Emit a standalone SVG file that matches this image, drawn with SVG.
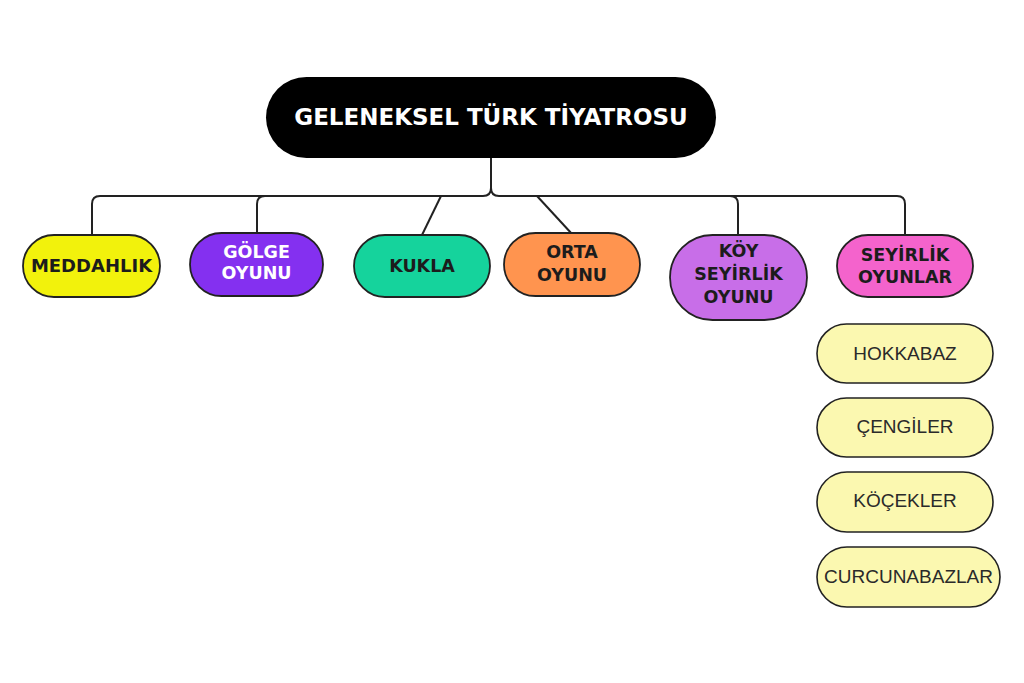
<svg xmlns="http://www.w3.org/2000/svg" width="1024" height="683" viewBox="0 0 1024 683">
<style>
.node{stroke:#222;stroke-width:1.8}
.lbl{font-family:"DejaVu Sans",sans-serif;font-weight:bold;font-size:17.5px;text-anchor:middle;fill:#1c1c1c}
.sub{fill:#fbf8b0;stroke:#222;stroke-width:1.6}
.slbl{font-family:"Liberation Sans",Arial,sans-serif;font-size:19px;text-anchor:middle;fill:#2a2a2a}
.conn{fill:none;stroke:#222;stroke-width:2}
</style>
<rect width="1024" height="683" fill="#ffffff"/>
<g id="connectors">
<path class="conn" d="M491 158 V188 Q491 196 483 196 H100 Q92 196 92 204 V236"/>
<path class="conn" d="M491 188 Q491 196 499 196 H897 Q905 196 905 204 V236"/>
<path class="conn" d="M257 234 V204 Q257 196 265 196"/>
<path class="conn" d="M738 236 V204 Q738 196 730 196"/>
<path class="conn" d="M441 196 L422 235"/>
<path class="conn" d="M537 196 L572 234"/>
</g>
<g id="root">
<rect x="266" y="77" width="450" height="81" rx="40.5" fill="#000000"/>
<text x="491" y="125" style="font-family:'DejaVu Sans',sans-serif;font-weight:bold;font-size:23px;text-anchor:middle;fill:#ffffff">GELENEKSEL TÜRK TİYATROSU</text>
</g>
<g id="meddahlik">
<rect class="node" x="23" y="235" width="137" height="62" rx="31" fill="#f2f20c"/>
<text class="lbl" x="91.5" y="272" style="font-size:18px">MEDDAHLIK</text>
</g>
<g id="golge">
<rect class="node" x="190" y="233" width="133" height="63" rx="31.5" fill="#8430f0"/>
<text class="lbl" x="256.5" y="258" style="fill:#ffffff">GÖLGE</text>
<text class="lbl" x="256.5" y="279" style="fill:#ffffff">OYUNU</text>
</g>
<g id="kukla">
<rect class="node" x="354" y="235" width="136" height="62" rx="31" fill="#15d39c"/>
<text class="lbl" x="422" y="272">KUKLA</text>
</g>
<g id="orta">
<rect class="node" x="504" y="233" width="136" height="63" rx="31.5" fill="#ff944f"/>
<text class="lbl" x="572" y="258">ORTA</text>
<text class="lbl" x="572" y="281">OYUNU</text>
</g>
<g id="koy">
<rect class="node" x="670" y="235" width="137" height="85" rx="42.5" fill="#c86ee8"/>
<text class="lbl" x="738.5" y="257">KÖY</text>
<text class="lbl" x="738.5" y="280">SEYİRLİK</text>
<text class="lbl" x="738.5" y="303">OYUNU</text>
</g>
<g id="seyirlik">
<rect class="node" x="837" y="235" width="136" height="62" rx="31" fill="#f463cc"/>
<text class="lbl" x="905" y="261">SEYİRLİK</text>
<text class="lbl" x="905" y="283">OYUNLAR</text>
</g>
<g id="hokkabaz">
<rect class="sub" x="817" y="324" width="176" height="59" rx="29.5"/>
<text class="slbl" x="905" y="360">HOKKABAZ</text>
</g>
<g id="cengiler">
<rect class="sub" x="817" y="398" width="176" height="59" rx="29.5"/>
<text class="slbl" x="905" y="433">ÇENGİLER</text>
</g>
<g id="kocekler">
<rect class="sub" x="817" y="472" width="176" height="60" rx="30"/>
<text class="slbl" x="905" y="507">KÖÇEKLER</text>
</g>
<g id="curcunabazlar">
<rect class="sub" x="817" y="547" width="183" height="60" rx="30"/>
<text class="slbl" x="908.5" y="583">CURCUNABAZLAR</text>
</g>
</svg>
